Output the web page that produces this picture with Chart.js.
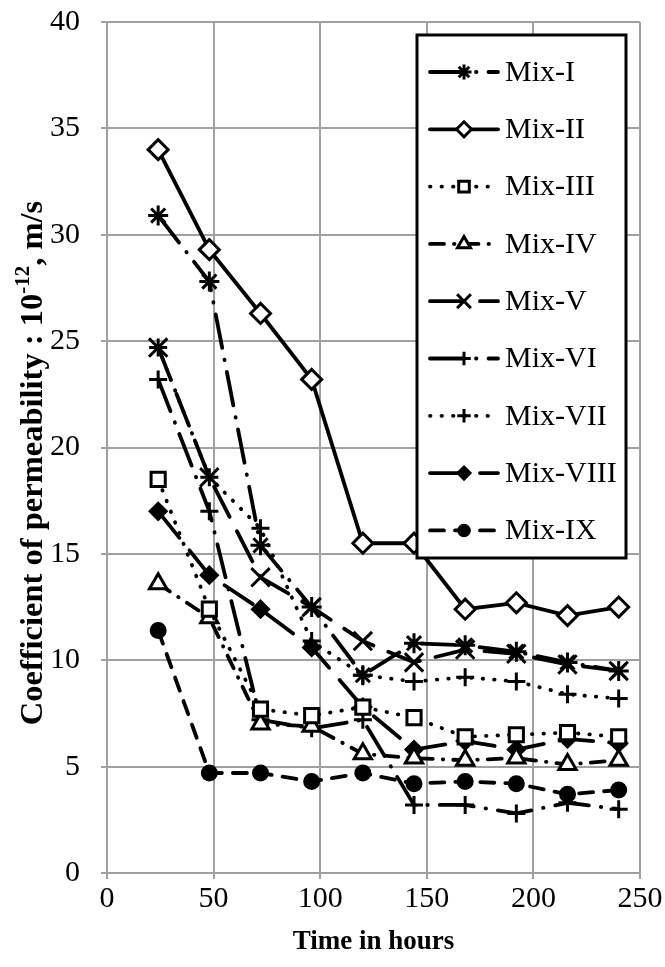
<!DOCTYPE html>
<html>
<head>
<meta charset="utf-8">
<script src="https://cdn.jsdelivr.net/npm/chart.js@4.4.0/dist/chart.umd.min.js"></script>
<style>
  body { margin: 0; background: #fff; }
  canvas { display: block; }
</style>
</head>
<body>
<canvas id="myChart" width="665" height="967"></canvas>
<script>
// time in hours (x) and coefficient of permeability, 10^-12 m/s (y)
var hours = [24, 48, 72, 96, 120, 144, 168, 192, 216, 240];
var mixNames = ["Mix-I", "Mix-II", "Mix-III", "Mix-IV", "Mix-V", "Mix-VI", "Mix-VII", "Mix-VIII", "Mix-IX"];

var mix1 = [30.9, 27.8, 15.4, 12.5, 9.3, 10.8, 10.7, 10.4, 9.9, 9.5];
var mix2 = [34.0, 29.3, 26.3, 23.2, 15.5, 15.5, 12.4, 12.7, 12.1, 12.5];
var mix3 = [18.5, 12.4, 7.7, 7.4, 7.8, 7.3, 6.4, 6.5, 6.6, 6.4];
var mix4 = [13.6, 12.0, 7.0, 6.9, 5.6, 5.4, 5.3, 5.4, 5.1, 5.3];
var mix5 = [24.7, 18.6, 13.9, 12.5, 10.9, 9.9, 10.5, 10.3, 9.8, 9.5];
var mix6 = [23.2, 17.0, 7.2, 6.8, 7.2, 3.2, 3.2, 2.8, 3.3, 3.0];
var mix7 = [24.7, 18.6, 16.2, 10.9, 9.3, 9.0, 9.2, 9.0, 8.4, 8.2];
var mix8 = [17.0, 14.0, 12.4, 10.6, 7.8, 5.8, 6.2, 5.8, 6.3, 6.1];
var mix9 = [11.4, 4.7, 4.7, 4.3, 4.7, 4.2, 4.3, 4.2, 3.7, 3.9];

var yTicks = [0, 5, 10, 15, 20, 25, 30, 35, 40];
var xTicks = [0, 50, 100, 150, 200, 250];

var allMixes = [mix1, mix2, mix3, mix4, mix5, mix6, mix7, mix8, mix9];

// line dash patterns (Excel style names)
var solid = [];
var roundDot = [0.5, 11];
var dash = [14, 11];
var dashDot = [14, 10, 0.5, 10];
var longDash = [34, 16];
var longDashDot = [34, 12, 0.5, 12];

var styles = [
  {dash: longDashDot, point: 'star', r: 10, fill: '#000'},
  {dash: solid, point: 'rectRot', r: 10, fill: '#fff'},
  {dash: roundDot, point: 'rect', r: 10, fill: '#fff'},
  {dash: dashDot, point: 'triangle', r: 10, fill: '#fff'},
  {dash: longDash, point: 'crossRot', r: 13, fill: '#000'},
  {dash: longDashDot, point: 'cross', r: 9, fill: '#000'},
  {dash: roundDot, point: 'cross', r: 9, fill: '#000'},
  {dash: longDash, point: 'rectRot', r: 8, fill: '#000'},
  {dash: dash, point: 'circle', r: 7, fill: '#000'}
];

function toPoints(vals) {
  return vals.map(function (v, i) { return {x: hours[i], y: v}; });
}

var datasets = allMixes.map(function (vals, i) {
  var s = styles[i];
  return {
    label: mixNames[i],
    data: toPoints(vals),
    borderColor: '#000',
    borderWidth: 3.8,
    borderDash: s.dash,
    borderCapStyle: 'round',
    pointStyle: s.point,
    pointRadius: s.r,
    pointHoverRadius: s.r,
    pointBorderWidth: 3,
    pointBorderColor: '#000',
    pointBackgroundColor: s.fill,
    fill: false,
    tension: 0
  };
});

var serif = '"Liberation Serif", "Times New Roman", serif';
var gridGrey = '#a0a0a0';

// legend box drawn inside the plot, over the lines
var boxLegend = {
  id: 'boxLegend',
  afterDraw: function (chart) {
    var ctx = chart.ctx;
    ctx.save();
    ctx.fillStyle = '#fff';
    ctx.fillRect(417, 35, 209, 523);
    ctx.lineWidth = 3;
    ctx.strokeStyle = '#000';
    ctx.strokeRect(417, 35, 209, 523);
    chart.data.datasets.forEach(function (ds, i) {
      var y = 72 + i * 57.3;
      ctx.save();
      ctx.beginPath();
      ctx.strokeStyle = '#000';
      ctx.lineWidth = ds.borderWidth;
      ctx.lineCap = ds.borderCapStyle;
      ctx.setLineDash(ds.borderDash);
      ctx.moveTo(430, y);
      ctx.lineTo(498, y);
      ctx.stroke();
      ctx.restore();

      ctx.save();
      ctx.setLineDash([]);
      ctx.fillStyle = ds.pointBackgroundColor;
      ctx.strokeStyle = '#000';
      ctx.lineWidth = ds.pointBorderWidth;
      Chart.helpers.drawPoint(ctx, {
        pointStyle: ds.pointStyle,
        radius: ds.pointRadius * 0.75,
        borderWidth: ds.pointBorderWidth,
        rotation: 0
      }, 464, y);
      ctx.restore();

      ctx.fillStyle = '#000';
      ctx.font = '30px ' + serif;
      ctx.textBaseline = 'middle';
      ctx.textAlign = 'left';
      ctx.fillText(ds.label, 505, y + 1);
    });
    ctx.restore();
  }
};

// y axis title with the superscript exponent
var yTitle = {
  id: 'yTitle',
  afterDraw: function (chart) {
    var ctx = chart.ctx;
    var big = 'bold 32.5px ' + serif;
    var small = 'bold 21px ' + serif;
    var p1 = 'Coefficient of permeability : 10';
    var p2 = '-12';
    var p3 = ', m/s';
    ctx.save();
    ctx.font = big;
    var w1 = ctx.measureText(p1).width;
    var w3 = ctx.measureText(p3).width;
    ctx.font = small;
    var w2 = ctx.measureText(p2).width;
    var total = w1 + w2 + w3;
    ctx.translate(32, 463);
    ctx.rotate(-Math.PI / 2);
    ctx.fillStyle = '#000';
    ctx.textBaseline = 'alphabetic';
    ctx.textAlign = 'left';
    var x0 = -total / 2;
    ctx.font = big;
    ctx.fillText(p1, x0, 10);
    ctx.font = small;
    ctx.fillText(p2, x0 + w1, -3);
    ctx.font = big;
    ctx.fillText(p3, x0 + w1 + w2, 10);
    ctx.restore();
  }
};

new Chart("myChart", {
  type: "line",
  data: {datasets: datasets},
  plugins: [boxLegend, yTitle],
  options: {
    responsive: false,
    animation: false,
    devicePixelRatio: 1,
    layout: {padding: {left: 0, top: 22, right: 25, bottom: 0}},
    plugins: {
      legend: {display: false},
      tooltip: {enabled: false},
      title: {display: false}
    },
    scales: {
      x: {
        type: 'linear',
        min: 0,
        max: 250,
        afterBuildTicks: function (scale) {
          scale.ticks = xTicks.map(function (v) { return {value: v}; });
        },
        afterFit: function (scale) {
          scale.height = 94;
          scale.paddingLeft = 0;
          scale.paddingRight = 0;
        },
        ticks: {
          color: '#000',
          font: {family: serif, size: 30},
          padding: 2,
          maxRotation: 0
        },
        grid: {color: gridGrey, lineWidth: 2, tickLength: 6},
        border: {color: gridGrey, width: 2},
        title: {
          display: true,
          text: 'Time in hours',
          color: '#000',
          font: {family: serif, size: 27, weight: 'bold'},
          padding: {top: 0, bottom: 9}
        }
      },
      y: {
        type: 'linear',
        min: 0,
        max: 40,
        afterBuildTicks: function (scale) {
          scale.ticks = yTicks.map(function (v) { return {value: v}; });
        },
        afterFit: function (scale) {
          scale.width = 107;
          scale.paddingTop = 0;
          scale.paddingBottom = 0;
        },
        ticks: {
          color: '#000',
          font: {family: serif, size: 30},
          padding: 21
        },
        grid: {color: gridGrey, lineWidth: 2, tickLength: 6},
        border: {color: gridGrey, width: 2}
      }
    }
  }
});
</script>
</body>
</html>
